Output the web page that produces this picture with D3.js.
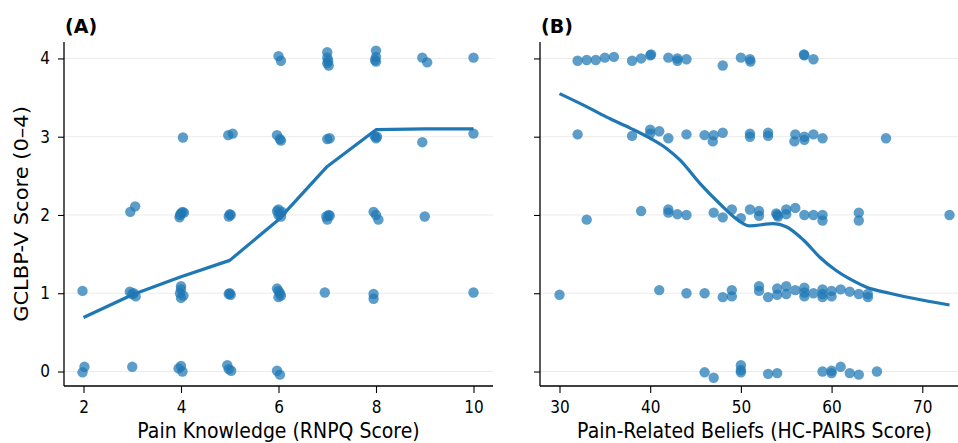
<html>
  <head>
    <script src="https://d3js.org/d3.v7.min.js"></script>
  </head>
  <style>
  body { margin: 0; background: #fff; }
  text { font-family: "DejaVu Sans", sans-serif; }
  </style>
  <body>
    <svg id="chart" width="958" height="443"></svg>

    <script>
    // panel A: pain knowledge (RNPQ) vs GCLBP-V, jittered points
    const knowledgeX = [6.0,6.05,7.0,7.0,7.02,7.0,7.03,8.0,8.0,7.98,8.0,8.95,9.05,10.0,
      4.04,4.97,5.06,5.97,6.03,6.05,7.0,7.05,7.97,8.0,8.02,8.95,10.0,
      2.96,3.06,3.97,4.0,4.03,4.06,3.98,5.0,4.98,5.02,5.97,6.0,6.03,6.05,6.0,6.07,6.98,7.0,7.05,7.03,7.95,8.0,8.05,9.0,
      1.98,2.95,3.0,3.07,3.03,4.0,4.0,3.98,4.05,4.0,5.0,5.02,4.98,5.97,6.0,6.03,6.05,6.0,6.95,7.95,7.95,10.0,
      2.02,1.98,3.0,3.95,4.0,4.03,4.95,4.98,5.03,5.97,6.03];
    const knowledgeY = [4.03,3.97,4.08,4.01,3.97,3.94,3.91,4.1,4.02,3.98,3.96,4.01,3.95,4.01,
      2.99,3.02,3.04,3.02,2.97,2.95,2.97,2.98,3.01,2.98,3.0,2.93,3.04,
      2.04,2.11,1.97,2.02,2.04,2.03,2.0,2.01,1.98,2.0,2.05,2.07,2.02,1.98,2.0,2.04,1.98,1.94,1.99,2.0,2.04,2.0,1.94,1.98,
      1.03,1.02,0.99,0.96,1.0,1.09,1.05,1.0,0.97,0.94,1.0,0.98,0.99,1.06,1.03,1.0,0.97,0.95,1.01,0.99,0.93,1.01,
      0.06,-0.01,0.06,0.04,0.07,0.0,0.08,0.03,0.01,0.01,-0.04];
    const knowledgeFitX = [2, 3, 4, 5, 6, 7, 8, 9, 10];
    const knowledgeFitY = [0.69, 0.98, 1.21, 1.42, 1.94, 2.62, 3.09, 3.1, 3.1];

    // panel B: pain-related beliefs (HC-PAIRS)
    const beliefsX = [32,33,34,35,36,38,39,40,40.1,42,43,43,44,48,50,51,51.05,57,56.95,58,
      32,38,40,40,41,42,44,46,47,46.9,48,51,51,53,53,56,55.9,57,57,58,59,66,
      33,39,42,42,43,44,47,48,49,50,51,52,52,53.9,54,54.1,55,55,56,57,58,59,59,63,63,73,
      30,41,44,46,48,49,49,52,52,53,54,54,55,55,56,57,57,57,58,59,59,59,60,60,61,62,63,64,64,
      46,47,50,50,50,53,54,59,60,60,61,62,63,65];
    const beliefsY = [3.97,3.98,3.98,4.01,4.02,3.97,4.0,4.04,4.05,4.01,4.0,3.97,3.99,3.91,4.01,3.99,3.96,4.04,4.05,3.99,
      3.03,3.01,3.09,3.04,3.07,2.98,3.03,3.02,3.02,2.94,3.05,3.04,3.0,3.05,3.01,3.03,2.94,3.0,2.96,3.03,2.98,2.98,
      1.94,2.05,2.07,2.03,2.01,2.0,2.03,1.97,2.07,1.96,2.07,2.05,1.99,2.02,2.0,1.98,2.07,2.01,2.09,2.0,2.0,2.0,1.93,2.03,1.93,2.0,
      0.98,1.04,1.0,1.0,0.95,1.04,0.96,1.09,1.03,0.95,1.06,0.98,1.09,0.99,1.04,1.07,1.01,0.96,1.0,1.05,0.99,0.95,1.03,0.96,1.05,1.02,0.99,0.99,0.95,
      -0.01,-0.08,0.08,0.02,-0.01,-0.03,-0.02,0.0,0.01,-0.02,0.06,-0.02,-0.04,0.0];
    const beliefsFitX = [30, 32.7, 35.2, 37.8, 40, 41.8, 43.3, 45.5, 47.7, 49.5, 50.9, 53.6, 55, 56.9, 58.7, 60.5, 62.2, 63.8, 66.4, 70.1, 73];
    const beliefsFitY = [3.55, 3.4, 3.25, 3.11, 2.98, 2.85, 2.7, 2.4, 2.14, 1.95, 1.86, 1.89, 1.85, 1.68, 1.46, 1.29, 1.17, 1.08, 1.0, 0.91, 0.85];

    const yTicks = [0, 1, 2, 3, 4];
    const knowledgeTicks = [2, 4, 6, 8, 10];
    const beliefsTicks = [30, 40, 50, 60, 70];

    const blue = "#1f77b4";
    const squeeze = 0.9;   // text in the picture is a bit narrow
    const svg = d3.select("#chart");
    const plotTop = 42, plotBottom = 386;

    const y = d3.scaleLinear().domain([-0.185, 4.21]).range([plotBottom, plotTop]);

    function narrow(sel) {
      sel.each(function() {
        const t = d3.select(this);
        const x0 = +t.attr("x") || 0;
        t.attr("x", x0 / squeeze).attr("transform", "scale(" + squeeze + ",1)");
      });
    }

    function panel(opts) {
      const g = svg.append("g");
      const x = d3.scaleLinear().domain(opts.domain).range([opts.left, opts.left + 429]);

      // horizontal grid
      g.selectAll("line.grid").data(yTicks).enter().append("line")
        .attr("class", "grid")
        .attr("x1", opts.left).attr("x2", opts.left + 429)
        .attr("y1", d => y(d)).attr("y2", d => y(d))
        .attr("stroke", "#ebebeb").attr("stroke-width", 1);

      const pts = opts.xs.map((v, i) => [v, opts.ys[i]]);
      g.selectAll("circle").data(pts).enter().append("circle")
        .attr("cx", d => x(d[0])).attr("cy", d => y(d[1]))
        .attr("r", 5.2)
        .attr("fill", blue).attr("fill-opacity", 0.72);

      const fit = opts.fitX.map((v, i) => [v, opts.fitY[i]]);
      g.append("path").datum(fit)
        .attr("d", d3.line().x(d => x(d[0])).y(d => y(d[1])).curve(opts.curve))
        .attr("fill", "none").attr("stroke", blue).attr("stroke-width", 3.2)
        .attr("stroke-linejoin", "round");

      const xAxis = g.append("g").attr("transform", "translate(0," + plotBottom + ")")
        .call(d3.axisBottom(x).tickValues(opts.ticks).tickSize(7).tickPadding(8));
      const yAxis = g.append("g").attr("transform", "translate(" + opts.left + ",0)")
        .call(d3.axisLeft(y).tickValues(yTicks).tickSize(6).tickPadding(8)
          .tickFormat(opts.showY ? d3.format("d") : ""));
      [xAxis, yAxis].forEach(a => {
        a.select(".domain").attr("stroke", "#000").attr("stroke-width", 1.3);
        a.selectAll(".tick line").attr("stroke", "#000").attr("stroke-width", 1.1);
        a.selectAll(".tick text").attr("fill", "#000").style("font-size", "17px")
          .style("font-family", "DejaVu Sans, sans-serif")
          .call(narrow);
      });
      // spines without end stubs
      xAxis.select(".domain").attr("d", "M" + opts.left + ",0H" + (opts.left + 429));
      yAxis.select(".domain").attr("d", "M0," + plotTop + "V" + plotBottom);

      g.append("text")
        .attr("x", opts.left + 214.5).attr("y", 438)
        .attr("text-anchor", "middle").style("font-size", "21px")
        .text(opts.label)
        .call(narrow);

      g.append("text")
        .attr("x", opts.left + 1).attr("y", 33)
        .style("font-size", "19px").style("font-weight", "bold")
        .text(opts.title);
    }

    panel({left: 64, domain: [1.6, 10.4], ticks: knowledgeTicks, xs: knowledgeX, ys: knowledgeY,
      fitX: knowledgeFitX, fitY: knowledgeFitY, curve: d3.curveLinear, showY: true,
      label: "Pain Knowledge (RNPQ Score)", title: "(A)"});
    panel({left: 540, domain: [27.85, 75.15], ticks: beliefsTicks, xs: beliefsX, ys: beliefsY,
      fitX: beliefsFitX, fitY: beliefsFitY, curve: d3.curveMonotoneX, showY: false,
      label: "Pain-Related Beliefs (HC-PAIRS Score)", title: "(B)"});

    svg.append("text")
      .attr("transform", "translate(28," + ((plotTop + plotBottom) / 2) + ") scale(" + squeeze + ",1) rotate(-90)")
      .attr("text-anchor", "middle").style("font-size", "21px")
      .text("GCLBP-V Score (0–4)");
    </script>
  </body>
</html>
